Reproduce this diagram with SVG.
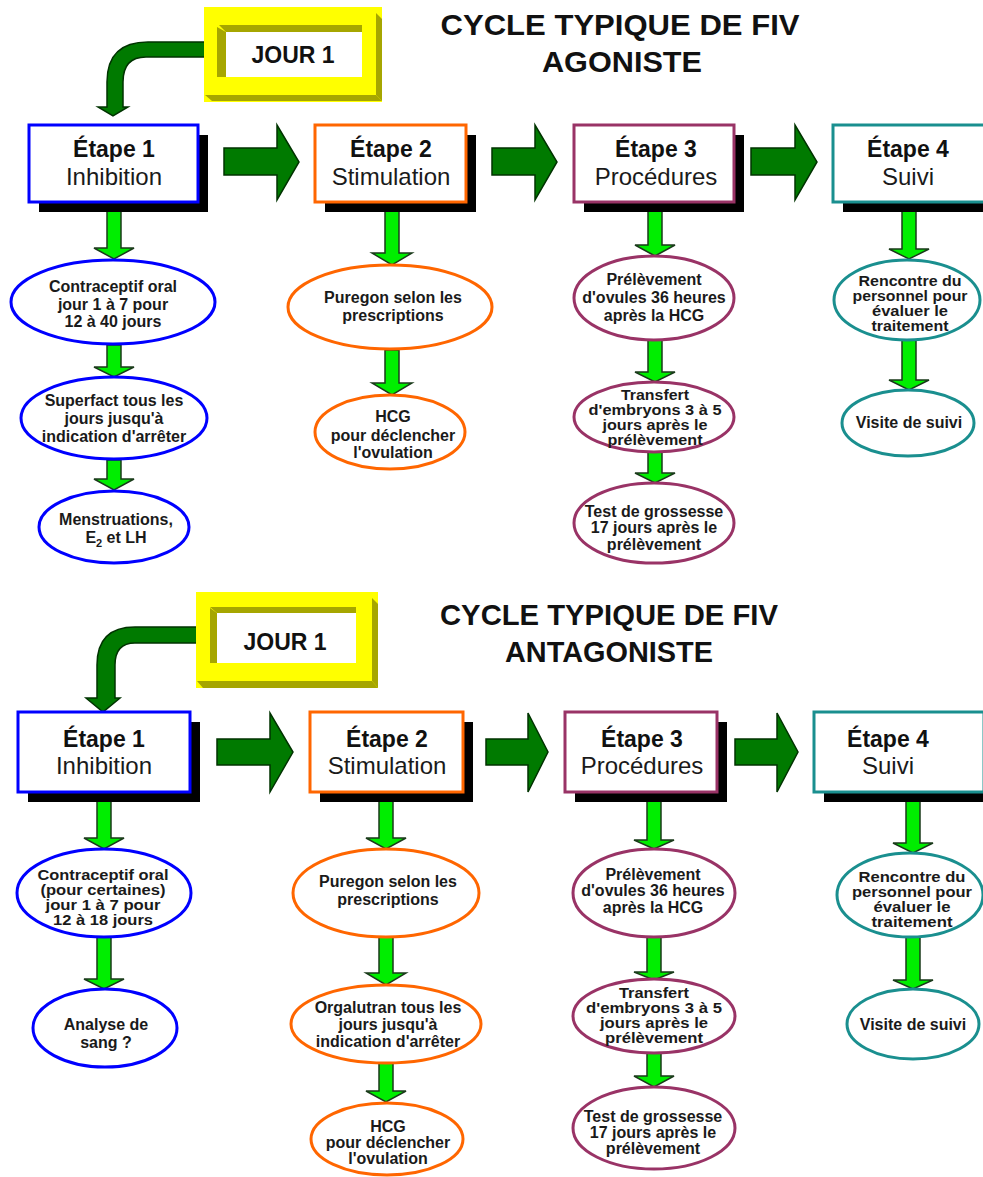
<svg xmlns="http://www.w3.org/2000/svg" width="983" height="1177" viewBox="0 0 983 1177">
<style>
text{font-family:"Liberation Sans",Arial,sans-serif;fill:#111}
.t{font-size:30px;font-weight:bold;text-anchor:middle}
.j{font-size:23px;font-weight:bold;text-anchor:middle}
.h{font-size:23px;font-weight:bold;text-anchor:middle}
.s{font-size:24px;text-anchor:middle;fill:#1a1a1a}
.e{font-size:16px;font-weight:bold;text-anchor:middle;fill:#1a1a1a}
.e4{font-size:14px;font-weight:bold;text-anchor:middle;fill:#1a1a1a}
.box{fill:#fff;stroke-width:3}
.sh{fill:#000}
.el{fill:#fff;stroke-width:3}
.big{fill:#007a00;stroke:#003300;stroke-width:1.5;stroke-linejoin:miter}
.sm{fill:#00ee00;stroke:#1a3a1a;stroke-width:1.5}
.yl{fill:#ffff00}
.ol{fill:#a6a600}
</style>
<rect width="983" height="1177" fill="#ffffff"/>

<!-- Titles -->
<g id="title-top">
<text class="t" x="620" y="35" textLength="359" lengthAdjust="spacingAndGlyphs">CYCLE TYPIQUE DE FIV</text>
<text class="t" x="622" y="72" textLength="160" lengthAdjust="spacingAndGlyphs">AGONISTE</text>
</g>
<g id="title-bottom">
<text class="t" x="609" y="625" textLength="338" lengthAdjust="spacingAndGlyphs">CYCLE TYPIQUE DE FIV</text>
<text class="t" x="609" y="662" textLength="208" lengthAdjust="spacingAndGlyphs">ANTAGONISTE</text>
</g>

<!-- Connectors -->
<g id="connectors">
<path class="big" d="M206 42 L148 42 Q107 42 107 82 L107 107 L98 107 L113 116 L128 107 L123 107 L123 82 Q123 57 146 57 L206 57 Z"/>
<path class="big" d="M197 627 L135 627 Q97 627 97 665 L97 698 L86 698 L103 712 L120 698 L115 698 L115 665 Q115 643 135 643 L197 643 Z"/>
<path class="big" d="M224 148 L277 148 L277 125 L299 162 L277 200 L277 175 L224 175 Z"/>
<path class="big" d="M492 148 L535 148 L535 125 L557 162 L535 200 L535 175 L492 175 Z"/>
<path class="big" d="M751 148 L795 148 L795 125 L817 162 L795 200 L795 175 L751 175 Z"/>
<path class="big" d="M217 739 L270 739 L270 713 L293 752 L270 792 L270 765 L217 765 Z"/>
<path class="big" d="M486 739 L528 739 L528 713 L548 752 L528 792 L528 765 L486 765 Z"/>
<path class="big" d="M735 739 L777 739 L777 713 L798 752 L777 792 L777 765 L735 765 Z"/>
<!-- small arrows top -->
<path class="sm" d="M107 203 L121 203 L121 248 L134 248 L114 259 L94 248 L107 248 Z"/>
<path class="sm" d="M107 345 L121 345 L121 367 L134 367 L114 377 L94 367 L107 367 Z"/>
<path class="sm" d="M107 460 L121 460 L121 479 L134 479 L114 490 L94 479 L107 479 Z"/>
<path class="sm" d="M385 203 L399 203 L399 253 L412 253 L392 265 L372 253 L385 253 Z"/>
<path class="sm" d="M385 350 L399 350 L399 383 L412 383 L392 395 L372 383 L385 383 Z"/>
<path class="sm" d="M648 203 L662 203 L662 245 L675 245 L655 256 L635 245 L648 245 Z"/>
<path class="sm" d="M648 340 L662 340 L662 372 L675 372 L655 382 L635 372 L648 372 Z"/>
<path class="sm" d="M648 452 L662 452 L662 473 L675 473 L655 483 L635 473 L648 473 Z"/>
<path class="sm" d="M902 203 L916 203 L916 249 L929 249 L909 259 L889 249 L902 249 Z"/>
<path class="sm" d="M902 340 L916 340 L916 380 L929 380 L909 390 L889 380 L902 380 Z"/>
<!-- small arrows bottom -->
<path class="sm" d="M97 793 L111 793 L111 838 L124 838 L104 849 L84 838 L97 838 Z"/>
<path class="sm" d="M97 937 L111 937 L111 979 L124 979 L104 989 L84 979 L97 979 Z"/>
<path class="sm" d="M379 793 L393 793 L393 838 L406 838 L386 849 L366 838 L379 838 Z"/>
<path class="sm" d="M379 937 L393 937 L393 973 L406 973 L386 985 L366 973 L379 973 Z"/>
<path class="sm" d="M379 1063 L393 1063 L393 1091 L406 1091 L386 1102 L366 1091 L379 1091 Z"/>
<path class="sm" d="M647 793 L661 793 L661 840 L674 840 L654 849 L634 840 L647 840 Z"/>
<path class="sm" d="M647 937 L661 937 L661 972 L674 972 L654 980 L634 972 L647 972 Z"/>
<path class="sm" d="M647 1053 L661 1053 L661 1076 L674 1076 L654 1087 L634 1076 L647 1076 Z"/>
<path class="sm" d="M906 793 L920 793 L920 843 L933 843 L913 853 L893 843 L906 843 Z"/>
<path class="sm" d="M906 937 L920 937 L920 980 L933 980 L913 989 L893 980 L906 980 Z"/>
</g>

<!-- JOUR 1 top -->
<g id="jour1-top">
<rect class="yl" x="204" y="7" width="178" height="95"/>
<polygon class="ol" points="376,13 382,19 382,101 376,95"/>
<polygon class="ol" points="205,95 376,95 382,101 212,101"/>
<polygon class="ol" points="219,25 362,25 362,32 226,32"/>
<polygon class="ol" points="217,27 226,32 226,77 217,77"/>
<rect x="226" y="32" width="136" height="45" fill="#fff"/>
<text class="j" x="293" y="63">JOUR 1</text>
</g>
<!-- JOUR 1 bottom -->
<g id="jour1-bottom">
<rect class="yl" x="196" y="592" width="182" height="96"/>
<polygon class="ol" points="372,598 378,604 378,688 372,681"/>
<polygon class="ol" points="197,681 372,681 378,688 203,688"/>
<polygon class="ol" points="210,607 356,607 356,613 217,613"/>
<polygon class="ol" points="210,608 217,613 217,663 210,663"/>
<rect x="217" y="613" width="139" height="50" fill="#fff"/>
<text class="j" x="285" y="650">JOUR 1</text>
</g>

<!-- Top stage boxes -->
<g id="etape1-top">
<rect class="sh" x="39" y="135" width="169" height="77"/>
<rect class="box" x="29" y="125" width="169" height="77" stroke="#0000ff"/>
<text class="h" x="114" y="157">Étape 1</text>
<text class="s" x="114" y="185">Inhibition</text>
</g>
<g id="etape2-top">
<rect class="sh" x="325" y="135" width="151" height="77"/>
<rect class="box" x="315" y="125" width="151" height="77" stroke="#ff6600"/>
<text class="h" x="391" y="157">Étape 2</text>
<text class="s" x="391" y="185">Stimulation</text>
</g>
<g id="etape3-top">
<rect class="sh" x="584" y="135" width="160" height="77"/>
<rect class="box" x="574" y="125" width="160" height="77" stroke="#993366"/>
<text class="h" x="656" y="157">Étape 3</text>
<text class="s" x="656" y="185">Procédures</text>
</g>
<g id="etape4-top">
<rect class="sh" x="843" y="135" width="160" height="77"/>
<rect class="box" x="833" y="125" width="160" height="77" stroke="#1a8f8f"/>
<text class="h" x="908" y="157">Étape 4</text>
<text class="s" x="908" y="185">Suivi</text>
</g>

<!-- Top ellipses -->
<g id="t-contraceptif">
<ellipse class="el" cx="113" cy="302" rx="102" ry="42" stroke="#0000ff"/>
<text class="e" x="113" y="292">Contraceptif oral</text>
<text class="e" x="113" y="310">jour 1 à 7 pour</text>
<text class="e" x="113" y="327">12 à 40 jours</text>
</g>
<g id="t-superfact">
<ellipse class="el" cx="114" cy="418" rx="93" ry="41" stroke="#0000ff"/>
<text class="e" x="114" y="406">Superfact tous les</text>
<text class="e" x="114" y="424">jours jusqu'à</text>
<text class="e" x="114" y="442">indication d'arrêter</text>
</g>
<g id="t-menstruations">
<ellipse class="el" cx="114" cy="527" rx="75" ry="36" stroke="#0000ff"/>
<text class="e" x="116" y="525">Menstruations,</text>
<text class="e" x="116" y="543">E<tspan font-size="11" dy="4">2</tspan><tspan dy="-4"> et LH</tspan></text>
</g>
<g id="t-puregon">
<ellipse class="el" cx="390" cy="307" rx="102" ry="42" stroke="#ff6600"/>
<text class="e" x="393" y="303">Puregon selon les</text>
<text class="e" x="393" y="321">prescriptions</text>
</g>
<g id="t-hcg">
<ellipse class="el" cx="390" cy="432" rx="75" ry="37" stroke="#ff6600"/>
<text class="e" x="393" y="422">HCG</text>
<text class="e" x="393" y="441">pour déclencher</text>
<text class="e" x="393" y="458">l'ovulation</text>
</g>
<g id="t-prelevement">
<ellipse class="el" cx="654" cy="298" rx="80" ry="42" stroke="#993366"/>
<text class="e" x="654" y="285">Prélèvement</text>
<text class="e" x="654" y="303">d'ovules 36 heures</text>
<text class="e" x="654" y="321">après la HCG</text>
</g>
<g id="t-transfert">
<ellipse class="el" cx="654" cy="417" rx="80" ry="35" stroke="#993366"/>
<text class="e4" x="655" y="400" textLength="68" lengthAdjust="spacingAndGlyphs">Transfert</text>
<text class="e4" x="655" y="415" textLength="133" lengthAdjust="spacingAndGlyphs">d'embryons 3 à 5</text>
<text class="e4" x="655" y="430" textLength="105" lengthAdjust="spacingAndGlyphs">jours après le</text>
<text class="e4" x="655" y="445" textLength="95" lengthAdjust="spacingAndGlyphs">prélèvement</text>
</g>
<g id="t-test">
<ellipse class="el" cx="654" cy="523" rx="80" ry="40" stroke="#993366"/>
<text class="e" x="654" y="517">Test de grossesse</text>
<text class="e" x="654" y="533">17 jours après le</text>
<text class="e" x="654" y="550">prélèvement</text>
</g>
<g id="t-rencontre">
<ellipse class="el" cx="907" cy="300" rx="73" ry="40" stroke="#1a8f8f"/>
<text class="e4" x="910" y="286" textLength="103" lengthAdjust="spacingAndGlyphs">Rencontre du</text>
<text class="e4" x="910" y="301" textLength="115" lengthAdjust="spacingAndGlyphs">personnel pour</text>
<text class="e4" x="910" y="316" textLength="76" lengthAdjust="spacingAndGlyphs">évaluer le</text>
<text class="e4" x="910" y="331" textLength="77" lengthAdjust="spacingAndGlyphs">traitement</text>
</g>
<g id="t-visite">
<ellipse class="el" cx="908" cy="423" rx="66" ry="33" stroke="#1a8f8f"/>
<text class="e" x="909" y="428">Visite de suivi</text>
</g>

<!-- Bottom stage boxes -->
<g id="etape1-bottom">
<rect class="sh" x="28" y="722" width="172" height="80"/>
<rect class="box" x="18" y="712" width="172" height="80" stroke="#0000ff"/>
<text class="h" x="104" y="747">Étape 1</text>
<text class="s" x="104" y="774">Inhibition</text>
</g>
<g id="etape2-bottom">
<rect class="sh" x="320" y="722" width="153" height="80"/>
<rect class="box" x="310" y="712" width="153" height="80" stroke="#ff6600"/>
<text class="h" x="387" y="747">Étape 2</text>
<text class="s" x="387" y="774">Stimulation</text>
</g>
<g id="etape3-bottom">
<rect class="sh" x="575" y="722" width="152" height="80"/>
<rect class="box" x="565" y="712" width="152" height="80" stroke="#993366"/>
<text class="h" x="642" y="747">Étape 3</text>
<text class="s" x="642" y="774">Procédures</text>
</g>
<g id="etape4-bottom">
<rect class="sh" x="824" y="722" width="170" height="80"/>
<rect class="box" x="814" y="712" width="170" height="80" stroke="#1a8f8f"/>
<text class="h" x="888" y="747">Étape 4</text>
<text class="s" x="888" y="774">Suivi</text>
</g>

<!-- Bottom ellipses -->
<g id="b-contraceptif">
<ellipse class="el" cx="104" cy="893" rx="87" ry="44" stroke="#0000ff"/>
<text class="e4" x="103" y="880" textLength="131" lengthAdjust="spacingAndGlyphs">Contraceptif oral</text>
<text class="e4" x="103" y="895" textLength="125" lengthAdjust="spacingAndGlyphs">(pour certaines)</text>
<text class="e4" x="103" y="910" textLength="115" lengthAdjust="spacingAndGlyphs">jour 1 à 7 pour</text>
<text class="e4" x="103" y="925" textLength="100" lengthAdjust="spacingAndGlyphs">12 à 18 jours</text>
</g>
<g id="b-analyse">
<ellipse class="el" cx="105" cy="1028" rx="72" ry="39" stroke="#0000ff"/>
<text class="e" x="106" y="1030">Analyse de</text>
<text class="e" x="106" y="1048">sang ?</text>
</g>
<g id="b-puregon">
<ellipse class="el" cx="386" cy="893" rx="93" ry="44" stroke="#ff6600"/>
<text class="e" x="388" y="887">Puregon selon les</text>
<text class="e" x="388" y="905">prescriptions</text>
</g>
<g id="b-orgalutran">
<ellipse class="el" cx="386" cy="1024" rx="95" ry="39" stroke="#ff6600"/>
<text class="e" x="388" y="1013">Orgalutran tous les</text>
<text class="e" x="388" y="1030">jours jusqu'à</text>
<text class="e" x="388" y="1047">indication d'arrêter</text>
</g>
<g id="b-hcg">
<ellipse class="el" cx="387" cy="1139" rx="76" ry="36" stroke="#ff6600"/>
<text class="e" x="388" y="1132">HCG</text>
<text class="e" x="388" y="1148">pour déclencher</text>
<text class="e" x="388" y="1164">l'ovulation</text>
</g>
<g id="b-prelevement">
<ellipse class="el" cx="654" cy="893" rx="81" ry="44" stroke="#993366"/>
<text class="e" x="653" y="880">Prélèvement</text>
<text class="e" x="653" y="896">d'ovules 36 heures</text>
<text class="e" x="653" y="913">après la HCG</text>
</g>
<g id="b-transfert">
<ellipse class="el" cx="654" cy="1016" rx="81" ry="37" stroke="#993366"/>
<text class="e4" x="654" y="998" textLength="70" lengthAdjust="spacingAndGlyphs">Transfert</text>
<text class="e4" x="654" y="1013" textLength="136" lengthAdjust="spacingAndGlyphs">d'embryons 3 à 5</text>
<text class="e4" x="654" y="1028" textLength="108" lengthAdjust="spacingAndGlyphs">jours après le</text>
<text class="e4" x="654" y="1043" textLength="98" lengthAdjust="spacingAndGlyphs">prélèvement</text>
</g>
<g id="b-test">
<ellipse class="el" cx="654" cy="1128" rx="81" ry="41" stroke="#993366"/>
<text class="e" x="653" y="1122">Test de grossesse</text>
<text class="e" x="653" y="1138">17 jours après le</text>
<text class="e" x="653" y="1154">prélèvement</text>
</g>
<g id="b-rencontre">
<ellipse class="el" cx="910" cy="895" rx="73" ry="42" stroke="#1a8f8f"/>
<text class="e4" x="912" y="882" textLength="107" lengthAdjust="spacingAndGlyphs">Rencontre du</text>
<text class="e4" x="912" y="897" textLength="120" lengthAdjust="spacingAndGlyphs">personnel pour</text>
<text class="e4" x="912" y="912" textLength="77" lengthAdjust="spacingAndGlyphs">évaluer le</text>
<text class="e4" x="912" y="927" textLength="81" lengthAdjust="spacingAndGlyphs">traitement</text>
</g>
<g id="b-visite">
<ellipse class="el" cx="913" cy="1024" rx="66" ry="35" stroke="#1a8f8f"/>
<text class="e" x="913" y="1030">Visite de suivi</text>
</g>
</svg>
